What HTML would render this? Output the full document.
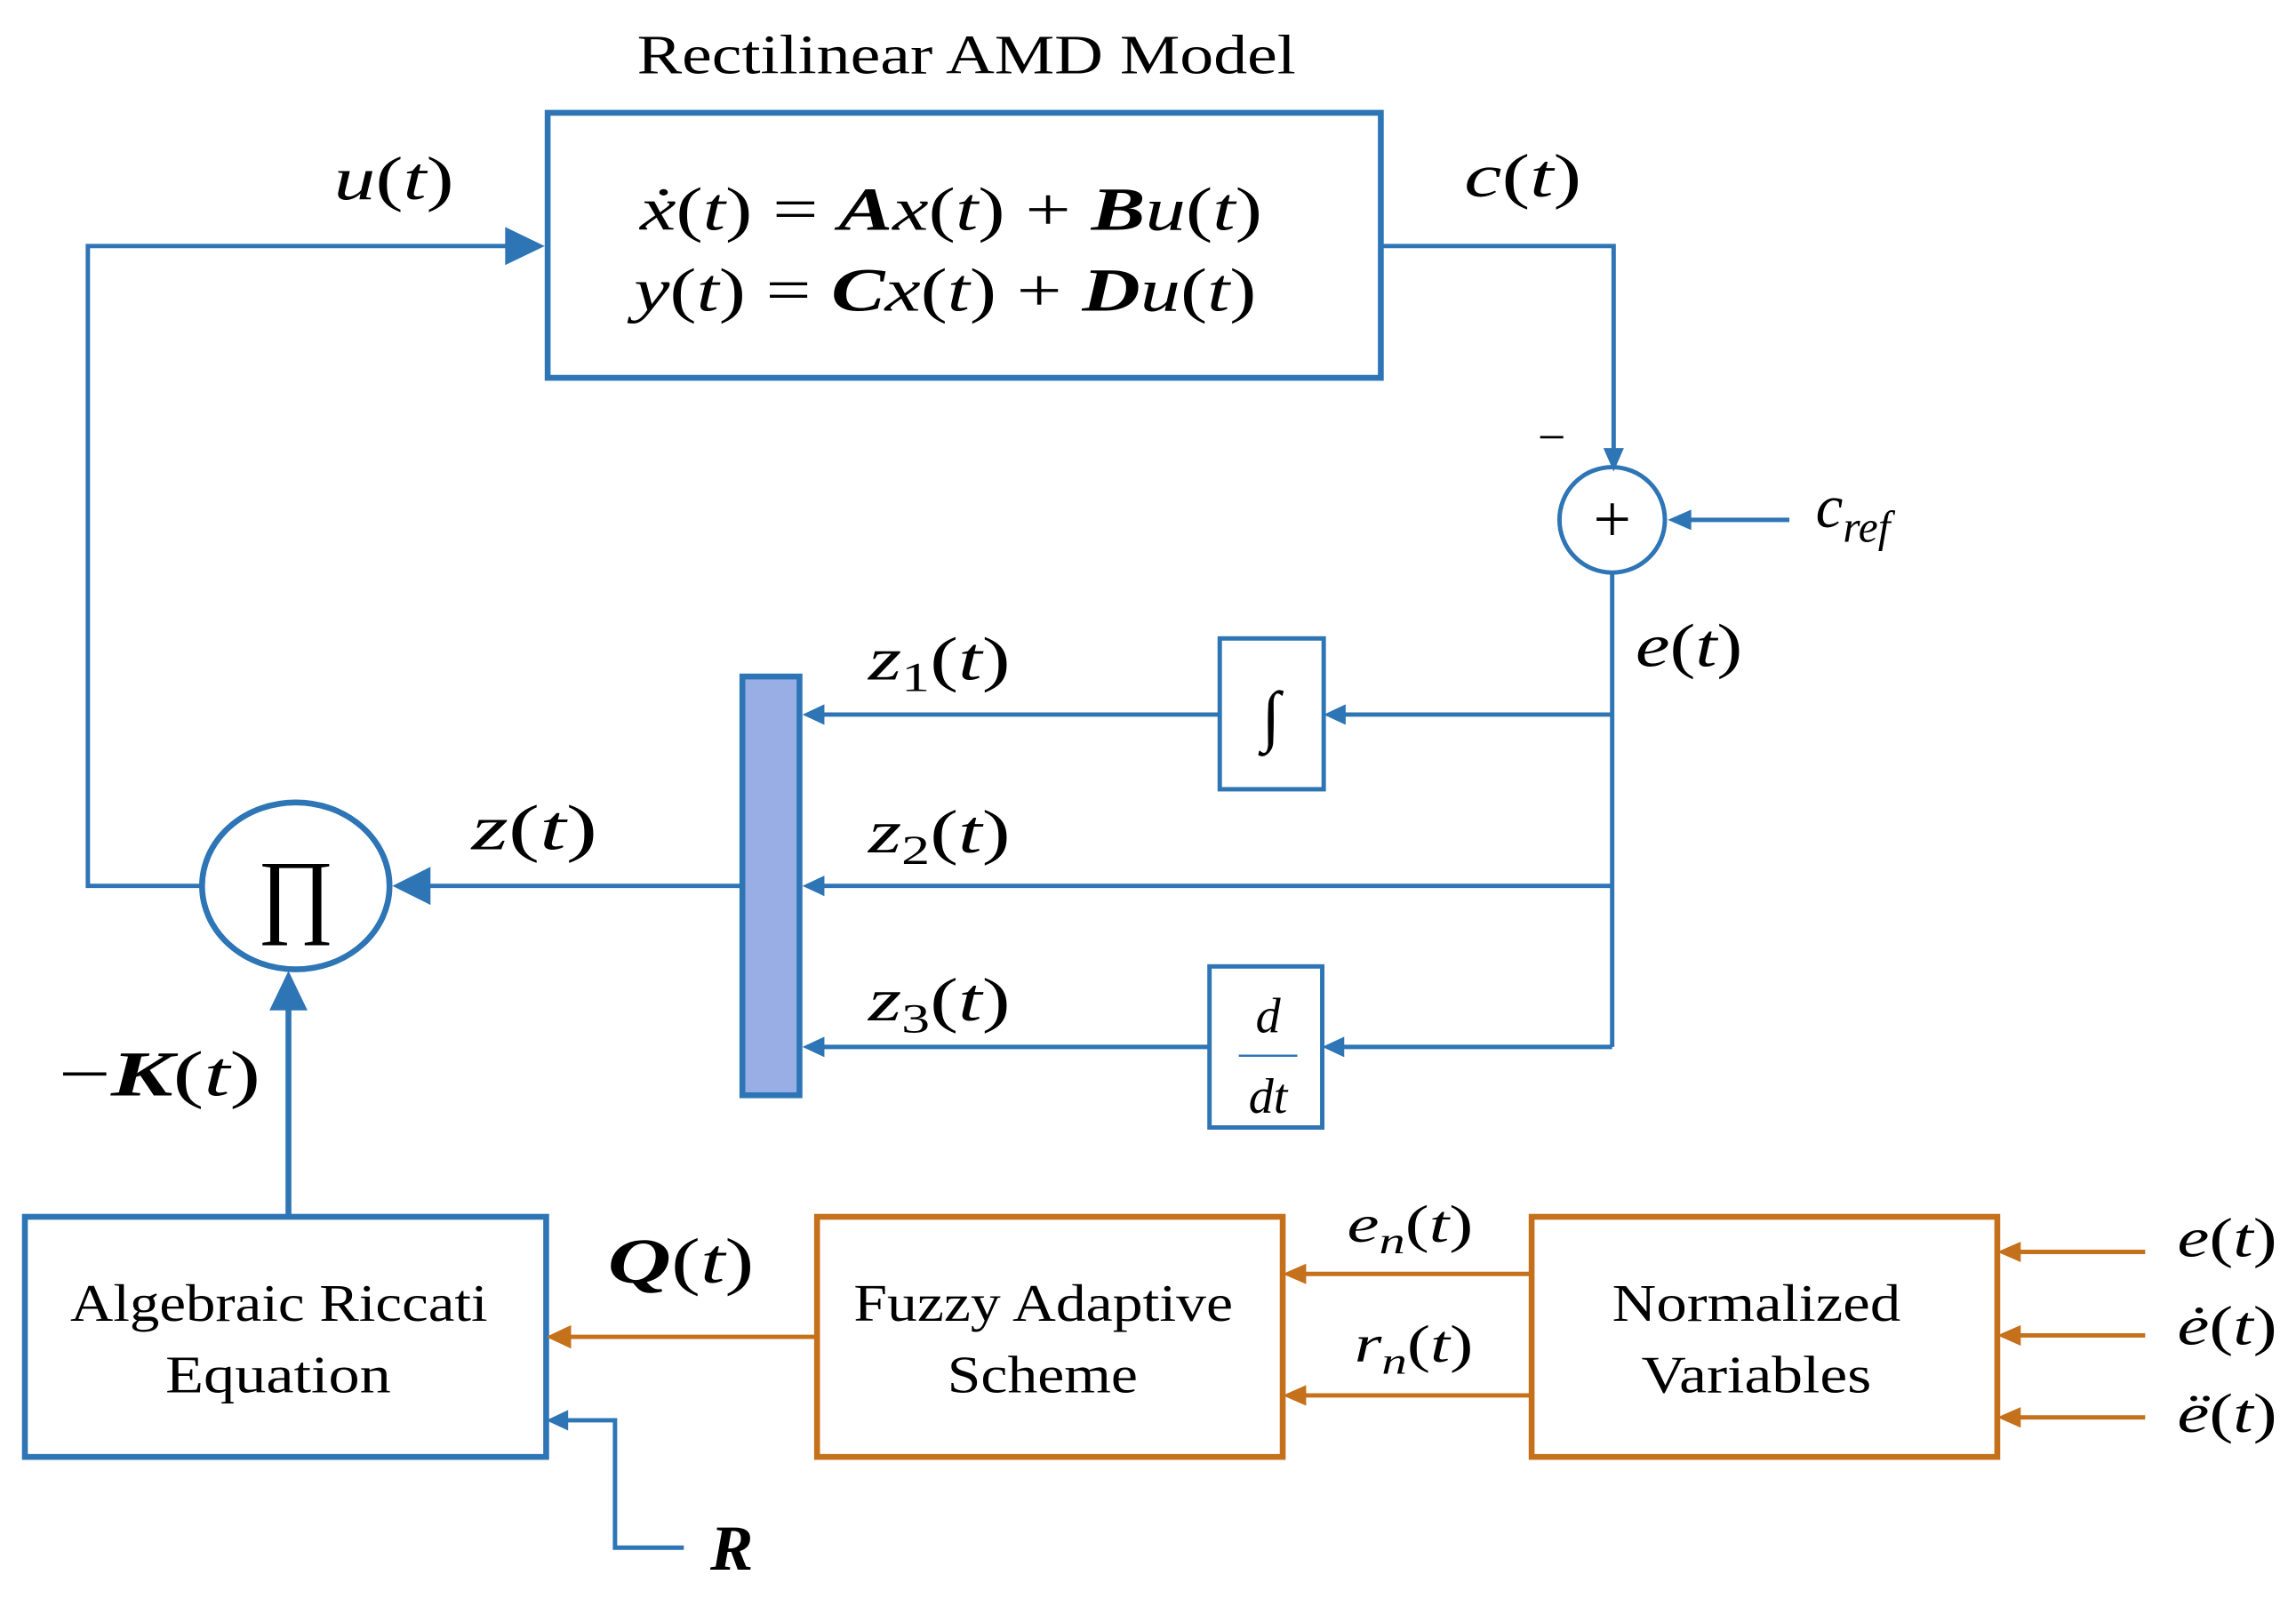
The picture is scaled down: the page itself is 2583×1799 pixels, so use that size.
<!DOCTYPE html>
<html><head><meta charset="utf-8"><style>
html,body{margin:0;padding:0;background:#fff;}
svg{display:block;}
text{font-family:"Liberation Serif",serif;}
.m{font-style:italic;}
</style></head><body>
<svg width="2583" height="1799" viewBox="0 0 1568 1092" xmlns="http://www.w3.org/2000/svg">
<g fill="none" stroke="#2e75b6" stroke-width="3">
<rect x="374" y="77" width="569" height="181" stroke-width="4"/>
<rect x="833" y="436" width="71" height="103"/>
<rect x="826" y="660" width="77" height="110"/>
<circle cx="1101" cy="355" r="36"/>
<ellipse cx="202" cy="605" rx="64" ry="57" stroke-width="4"/>
<rect x="17" y="831" width="356" height="164" stroke-width="4"/>
<polyline points="138,605 60,605 60,168 350,168"/>
<polyline points="943,168 1102,168 1102,308"/>
<line x1="1222" y1="355" x2="1152" y2="355"/>
<line x1="1101" y1="391" x2="1101" y2="715"/>
<line x1="1101" y1="488" x2="916" y2="488"/>
<line x1="833" y1="488" x2="560" y2="488"/>
<line x1="1101" y1="605" x2="560" y2="605"/>
<line x1="1101" y1="715" x2="915" y2="715"/>
<line x1="826" y1="715" x2="560" y2="715"/>
<line x1="507" y1="605" x2="292" y2="605"/>
<line x1="197" y1="830" x2="197" y2="688" stroke-width="4"/>
<polyline points="467,1057 420,1057 420,970 386,970"/>
</g>
<g fill="#2e75b6">
<path d="M372,168 L345,155 L345,181 z"/>
<path d="M1102,322 L1095,306 L1109,306 z"/>
<path d="M1139,355 L1155,348 L1155,362 z"/>
<path d="M904,488 L919,481 L919,495 z"/>
<path d="M548,488 L563,481 L563,495 z"/>
<path d="M548,605 L563,598 L563,612 z"/>
<path d="M903,715 L918,708 L918,722 z"/>
<path d="M548,715 L563,708 L563,722 z"/>
<path d="M268,605 L294,592 L294,618 z"/>
<path d="M197,663 L184,690 L210,690 z"/>
<path d="M373,970 L388,963 L388,977 z"/>
</g>
<rect x="507" y="462" width="39" height="286" fill="#9aaee6" stroke="#2e75b6" stroke-width="4"/>
<line x1="846" y1="721" x2="886" y2="721" stroke="#2e75b6" stroke-width="1.5"/>
<g fill="none" stroke="#c5701a" stroke-width="4">
<rect x="558" y="831" width="318" height="164"/>
<rect x="1046" y="831" width="318" height="164"/>
</g>
<g fill="none" stroke="#c5701a" stroke-width="3">
<line x1="557" y1="913" x2="388" y2="913"/>
<line x1="1046" y1="870" x2="890" y2="870"/>
<line x1="1046" y1="953" x2="890" y2="953"/>
<line x1="1465" y1="855" x2="1378" y2="855"/>
<line x1="1465" y1="912" x2="1378" y2="912"/>
<line x1="1465" y1="968" x2="1378" y2="968"/>
</g>
<g fill="#c5701a">
<path d="M373,913 L390,905 L390,921 z"/>
<path d="M876,870 L892,863 L892,877 z"/>
<path d="M876,953 L892,946 L892,960 z"/>
<path d="M1364,855 L1380,848 L1380,862 z"/>
<path d="M1364,912 L1380,905 L1380,919 z"/>
<path d="M1364,968 L1380,961 L1380,975 z"/>
</g>
<g fill="#000" font-size="42">
<text x="435" y="50" font-size="38" textLength="450" lengthAdjust="spacingAndGlyphs">Rectilinear AMD Model</text>
<text x="437" y="157" font-size="42" textLength="425" lengthAdjust="spacingAndGlyphs"><tspan class="m">ẋ</tspan>(<tspan class="m">t</tspan>) = <tspan class="m" font-weight="bold">A</tspan><tspan class="m">x</tspan>(<tspan class="m">t</tspan>) + <tspan class="m" font-weight="bold">B</tspan><tspan class="m">u</tspan>(<tspan class="m">t</tspan>)</text>
<text x="433" y="212" font-size="42" textLength="425" lengthAdjust="spacingAndGlyphs"><tspan class="m">y</tspan>(<tspan class="m">t</tspan>) = <tspan class="m" font-weight="bold">C</tspan><tspan class="m">x</tspan>(<tspan class="m">t</tspan>) + <tspan class="m" font-weight="bold">D</tspan><tspan class="m">u</tspan>(<tspan class="m">t</tspan>)</text>
<text x="228" y="136" textLength="82" lengthAdjust="spacingAndGlyphs"><tspan class="m">u</tspan>(<tspan class="m">t</tspan>)</text>
<text x="1000" y="134" textLength="80" lengthAdjust="spacingAndGlyphs"><tspan class="m">c</tspan>(<tspan class="m">t</tspan>)</text>
<text x="1050" y="310" font-size="34">−</text>
<text x="1101" y="370" text-anchor="middle" font-size="46">+</text>
<text x="1240" y="360" class="m" font-size="42">c<tspan font-size="30" dy="10">ref</tspan></text>
<text x="1117" y="455" textLength="73" lengthAdjust="spacingAndGlyphs"><tspan class="m">e</tspan>(<tspan class="m">t</tspan>)</text>
<text x="868" y="504" text-anchor="middle" class="m" font-size="46">∫</text>
<text x="866" y="705" text-anchor="middle" class="m" font-size="34">d</text>
<text x="866" y="760" text-anchor="middle" class="m" font-size="34">dt</text>
<text x="593" y="464" textLength="97" lengthAdjust="spacingAndGlyphs"><tspan class="m">z</tspan><tspan font-size="28" dy="8">1</tspan><tspan dy="-8">(</tspan><tspan class="m">t</tspan>)</text>
<text x="593" y="582" textLength="97" lengthAdjust="spacingAndGlyphs"><tspan class="m">z</tspan><tspan font-size="28" dy="8">2</tspan><tspan dy="-8">(</tspan><tspan class="m">t</tspan>)</text>
<text x="593" y="697" textLength="97" lengthAdjust="spacingAndGlyphs"><tspan class="m">z</tspan><tspan font-size="28" dy="8">3</tspan><tspan dy="-8">(</tspan><tspan class="m">t</tspan>)</text>
<text x="322" y="580" font-size="44" textLength="86" lengthAdjust="spacingAndGlyphs"><tspan class="m">z</tspan>(<tspan class="m">t</tspan>)</text>
<text x="202" y="632" text-anchor="middle" font-size="64">∏</text>
<text x="40" y="748" font-size="44" textLength="138" lengthAdjust="spacingAndGlyphs">−<tspan class="m" font-weight="bold">K</tspan>(<tspan class="m">t</tspan>)</text>
<text x="415" y="876" font-size="44" textLength="100" lengthAdjust="spacingAndGlyphs"><tspan class="m" font-weight="bold">Q</tspan>(<tspan class="m">t</tspan>)</text>
<text x="485" y="1072" class="m" font-weight="bold" font-size="44">R</text>
<text x="48" y="902" font-size="36" textLength="285" lengthAdjust="spacingAndGlyphs">Algebraic Riccati</text>
<text x="113" y="951" font-size="36" textLength="154" lengthAdjust="spacingAndGlyphs">Equation</text>
<text x="583" y="902" font-size="36" textLength="259" lengthAdjust="spacingAndGlyphs">Fuzzy Adaptive</text>
<text x="647" y="951" font-size="36" textLength="130" lengthAdjust="spacingAndGlyphs">Scheme</text>
<text x="1101" y="902" font-size="36" textLength="197" lengthAdjust="spacingAndGlyphs">Normalized</text>
<text x="1121" y="951" font-size="36" textLength="157" lengthAdjust="spacingAndGlyphs">Variables</text>
<text x="920" y="848" font-size="36" textLength="86" lengthAdjust="spacingAndGlyphs"><tspan class="m">e</tspan><tspan class="m" font-size="26" dy="8">n</tspan><tspan dy="-8">(</tspan><tspan class="m">t</tspan>)</text>
<text x="925" y="930" font-size="36" textLength="81" lengthAdjust="spacingAndGlyphs"><tspan class="m">r</tspan><tspan class="m" font-size="26" dy="8">n</tspan><tspan dy="-8">(</tspan><tspan class="m">t</tspan>)</text>
<text x="1487" y="858" font-size="38" textLength="68" lengthAdjust="spacingAndGlyphs"><tspan class="m">e</tspan>(<tspan class="m">t</tspan>)</text>
<text x="1487" y="918" font-size="38" textLength="68" lengthAdjust="spacingAndGlyphs"><tspan class="m">ė</tspan>(<tspan class="m">t</tspan>)</text>
<text x="1487" y="978" font-size="38" textLength="68" lengthAdjust="spacingAndGlyphs"><tspan class="m">ë</tspan>(<tspan class="m">t</tspan>)</text>
</g>
</svg>
</body></html>
